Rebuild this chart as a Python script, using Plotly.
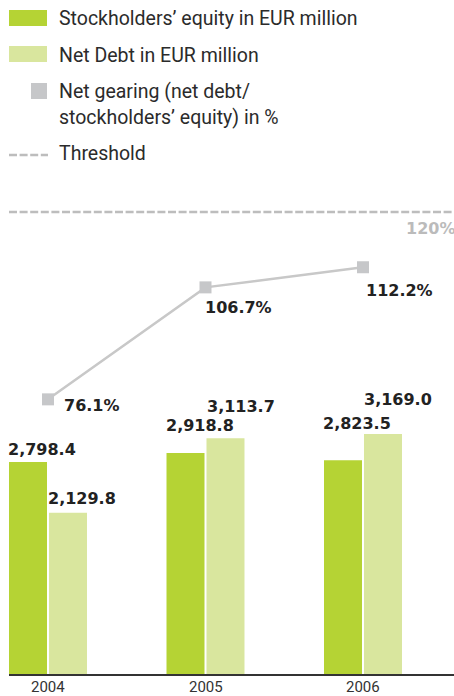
import plotly.graph_objects as go

# Figures in EUR million and net gearing in %
years = ["2004", "2005", "2006"]
equity = [2798.4, 2918.8, 2823.5]
net_debt = [2129.8, 3113.7, 3169.0]
gearing = [76.1, 106.7, 112.2]
threshold = 120

fmt_money = lambda v: f"{v:,.1f}"
fmt_pct = lambda v: f"{v:.1f}%"

W, H = 454, 696
GREEN = "#b5d334"
LIGHT = "#d9e69e"
GREY = "#c6c7c9"
TEXT = "#222222"

x = list(range(len(years)))
bar_w = 0.2413

# label nudges (pixels): bar labels sit freely above the bars
eq_shift = [13, 27, 37]
nd_shift = [14, 32, 34]
nd_xshift = [-3, -1, -2]
g_shift = [(14, -6.5), (-2.5, -20.5), (1, -23)]

def px(v):
    return v / W

def py(v):
    return 1 - v / H

fig = go.Figure()
fig.add_trace(go.Bar(x=x, y=equity, width=bar_w, offset=-0.2476,
                     marker=dict(color=GREEN, line=dict(width=0)),
                     name="Stockholders’ equity in EUR million", hoverinfo="skip"))
fig.add_trace(go.Bar(x=x, y=net_debt, width=bar_w, offset=0.0063,
                     marker=dict(color=LIGHT, line=dict(width=0)),
                     name="Net Debt in EUR million", hoverinfo="skip"))
fig.add_trace(go.Scatter(x=x, y=gearing, yaxis="y2", mode="lines+markers",
                         line=dict(color="#c8c8c8", width=2.5),
                         marker=dict(symbol="square", size=12, color=GREY),
                         name="Net gearing", hoverinfo="skip"))

BOLD = dict(family="DejaVu Sans", size=16, color=TEXT, weight="bold")
ann = []
for i in x:
    ann.append(dict(x=i - 0.2476, y=equity[i], xref="x", yref="y", text=fmt_money(equity[i]),
                    xanchor="left", yanchor="middle", yshift=eq_shift[i], xshift=-3,
                    showarrow=False, font=BOLD))
    ann.append(dict(x=i + 0.0063, y=net_debt[i], xref="x", yref="y", text=fmt_money(net_debt[i]),
                    xanchor="left", yanchor="middle", yshift=nd_shift[i], xshift=nd_xshift[i],
                    showarrow=False, font=BOLD))
    ann.append(dict(x=i, y=gearing[i], xref="x", yref="y2", text=fmt_pct(gearing[i]),
                    xanchor="left", yanchor="middle", xshift=g_shift[i][0], yshift=g_shift[i][1],
                    showarrow=False, font=BOLD))
    # category label under the axis line
    ann.append(dict(x=i, y=py(687), xref="x", yref="paper", text=years[i],
                    xanchor="center", yanchor="middle", showarrow=False, borderpad=0,
                    font=dict(family="Roboto", size=15, color="#333333")))

# threshold value label
ann.append(dict(x=1, y=threshold, xref="x domain", yref="y3", text=f"{threshold}%",
                xanchor="right", yanchor="middle", yshift=-16, xshift=3, showarrow=False,
                font=dict(family="DejaVu Sans", size=16, color="#bbbbbb", weight="bold")))

# legend entries
legend_text = [
    ("Stockholders’ equity in EUR million", 18.3),
    ("Net Debt in EUR million", 55),
    ("Net gearing (net debt/", 91.7),
    ("stockholders’ equity) in %", 118),
    ("Threshold", 153.3),
]
for t, yy in legend_text:
    ann.append(dict(x=px(57), y=py(yy), xref="paper", yref="paper", text=t,
                    xanchor="left", yanchor="middle", showarrow=False,
                    font=dict(family="Roboto", size=19.5, color="#2b2b2b")))

shapes = [
    dict(type="rect", xref="paper", yref="paper", x0=px(9), x1=px(47), y0=py(10), y1=py(26),
         fillcolor=GREEN, line=dict(width=0)),
    dict(type="rect", xref="paper", yref="paper", x0=px(9), x1=px(47), y0=py(46), y1=py(62),
         fillcolor=LIGHT, line=dict(width=0)),
    dict(type="rect", xref="paper", yref="paper", x0=px(31), x1=px(47), y0=py(83), y1=py(99),
         fillcolor=GREY, line=dict(width=0)),
    dict(type="line", xref="paper", yref="paper", x0=px(9), x1=px(48), y0=py(155), y1=py(155),
         line=dict(color="#bdbdbd", width=2.5, dash="8px,2.6px")),
    # threshold line
    dict(type="line", xref="x domain", yref="y3", x0=0, x1=1, y0=threshold, y1=threshold,
         line=dict(color="#bdbdbd", width=2.5, dash="8px,2.6px")),
]

ydom = [(H - 674) / H, (H - 200) / H]
fig.update_layout(
    width=W, height=H,
    margin=dict(l=0, r=0, t=0, b=0, pad=0),
    paper_bgcolor="white", plot_bgcolor="white",
    showlegend=False, barmode="overlay",
    xaxis=dict(domain=[9 / W, 1], range=[-0.2476, 2.5778], showticklabels=False,
               showgrid=False, zeroline=False, showline=True, linecolor="#333333", linewidth=1.5,
               ticks="", automargin=False, fixedrange=True),
    yaxis=dict(domain=ydom, range=[0, 6258.2], visible=False, fixedrange=True),
    yaxis2=dict(domain=ydom, range=[1.04, 130.58], overlaying="y", visible=False, fixedrange=True),
    yaxis3=dict(domain=ydom, range=[0, 123.12], overlaying="y", visible=False, fixedrange=True),
    annotations=ann, shapes=shapes,
)

fig.write_html("out.html")
